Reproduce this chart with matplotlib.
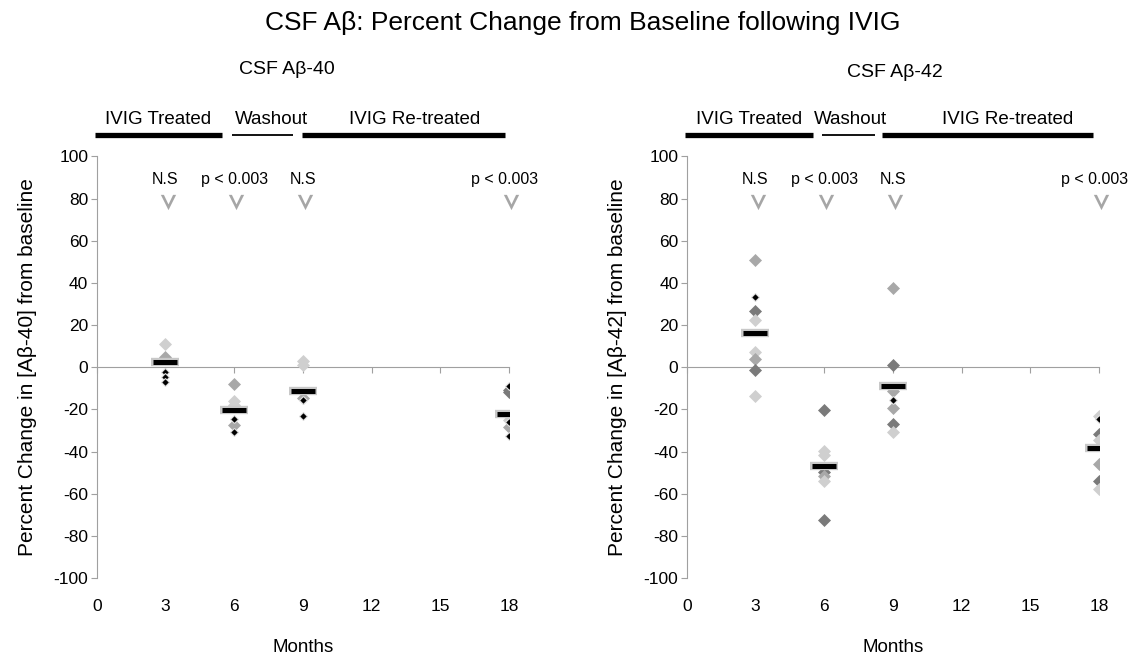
import matplotlib
matplotlib.use('Agg')
import matplotlib.pyplot as plt
from matplotlib.path import Path

plt.rcParams['font.family'] = ['Liberation Sans', 'DejaVu Sans']
plt.rcParams['axes.unicode_minus'] = False

# data (percent change from baseline)
months = [3, 6, 9, 18]
tick_months = [0, 3, 6, 9, 12, 15, 18]

ab40_m3 = [11.0, 5.0, -2.3, -4.7, -7.0]
ab40_m6 = [-8.0, -15.9, -17.8, -24.4, -27.3, -30.8]
ab40_m9 = [2.8, 1.0, -14.8, -15.7, -23.2]
ab40_m18 = [-9.1, -10.7, -11.9, -24.9, -26.0, -28.4, -32.5]
ab40_means = [2.3, -20.5, -11.2, -22.1]

ab42_m3 = [50.7, 33.1, 26.5, 22.5, 7.2, 4.0, -1.5, -13.4]
ab42_m6 = [-20.3, -39.9, -41.5, -49.8, -51.8, -54.2, -72.5]
ab42_m9 = [37.6, 0.9, -11.2, -15.3, -19.5, -26.8, -30.6]
ab42_m18 = [-23.2, -24.4, -31.6, -34.7, -45.8, -54.2, -57.7]
ab42_means = [16.2, -46.9, -9.1, -38.4]

p_labels = ['N.S', 'p < 0.003', 'N.S', 'p < 0.003']
period_labels = ['IVIG Treated', 'Washout', 'IVIG Re-treated']

# marker shades per point (L light, M mid, D dark, K small black)
ab40_shades = [list('LMKKK'), list('MLLKMK'), list('LLMKK'), list('KDDLKMK')]
ab42_shades = [list('MKDLLMDL'), list('DLLDMLD'), list('MDMKMDL'), list('LKDLMDL')]

shade_col = {'L': '#cfcfcf', 'M': '#a8a8a8', 'D': '#7a7a7a'}
axis_col = '#a0a0a0'

# chevron marker for the significance arrows
chevron = Path([(-1, 1), (0, -1), (1, 1), (0.6, 1), (0, -0.25), (-0.6, 1), (-1, 1)],
               [Path.MOVETO] + [Path.LINETO] * 5 + [Path.CLOSEPOLY])


def draw_panel(ax, groups, shades, means, ylab, periods):
    for m, vals, sh in zip(months, groups, shades):
        for v, s in zip(vals, sh):
            if s == 'K':
                ax.plot(m, v, marker='D', ms=4.2, color='black', mec='#e0e0e0', mew=0.8, zorder=4)
            else:
                ax.plot(m, v, marker='D', ms=6.4, color=shade_col[s], mec=shade_col[s], mew=0.5, zorder=3)
    ax.plot(months, means, ls='none', marker='_', ms=19.5, mew=6, color='#c8c8c8', zorder=5)
    ax.plot(months, means, ls='none', marker='_', ms=17.5, mew=3.6, color='black', zorder=6)

    for m, lab in zip(months, p_labels):
        ax.text(min(m, 17.8), 89, lab, ha='center', va='center', fontsize=11.5)
        ax.plot(m + 0.1, 78.5, marker=chevron, ms=11, color='#a6a6a6', mec='none', clip_on=False)

    for lab, (x0, x1, xc, lw) in zip(period_labels, periods):
        ax.plot([x0, x1], [110, 110], color='black', lw=lw, solid_capstyle='butt', clip_on=False)
        ax.text(xc, 115.5, lab, ha='center', va='baseline', fontsize=13.5)

    ax.set_xlim(0, 18)
    ax.set_ylim(-100, 100)
    ax.set_yticks(range(-100, 101, 20))
    ax.set_xticks(tick_months)
    for s in ['top', 'right']:
        ax.spines[s].set_visible(False)
    ax.spines['left'].set_color(axis_col)
    ax.spines['bottom'].set_position(('data', 0))
    ax.spines['bottom'].set_color(axis_col)
    ax.tick_params(axis='x', direction='out', length=4, color=axis_col, labelbottom=False)
    ax.tick_params(axis='y', direction='out', length=4, color=axis_col, labelsize=12.5, pad=2)
    ax.set_ylabel(ylab, fontsize=15, labelpad=12)

    sec = ax.secondary_xaxis('bottom')
    sec.set_xticks(tick_months)
    sec.spines['bottom'].set_visible(False)
    sec.tick_params(length=0, labelsize=12.5, pad=15)
    sec.set_xlabel('Months', fontsize=13.5, labelpad=18)


fig = plt.figure(figsize=(11.31, 6.6), dpi=100)
ax1 = fig.add_axes([0.0855, 0.1242, 0.3645, 0.6387])
ax2 = fig.add_axes([0.6072, 0.1242, 0.3645, 0.6387])

draw_panel(ax1, [ab40_m3, ab40_m6, ab40_m9, ab40_m18], ab40_shades, ab40_means,
           'Percent Change in [A\u03b2-40] from baseline',
           [(-0.07, 5.47, 2.67, 3.8), (5.91, 8.57, 7.61, 1.3), (8.97, 17.83, 13.9, 3.8)])
draw_panel(ax2, [ab42_m3, ab42_m6, ab42_m9, ab42_m18], ab42_shades, ab42_means,
           'Percent Change in [A\u03b2-42] from baseline',
           [(-0.07, 5.52, 2.70, 3.8), (5.91, 8.22, 7.13, 1.3), (8.53, 17.74, 14.03, 3.8)])

fig.text(0.2538, 0.894, 'CSF A\u03b2-40', ha='center', va='center', fontsize=14)
fig.text(0.791, 0.89, 'CSF A\u03b2-42', ha='center', va='center', fontsize=14)
fig.text(0.515, 0.965, 'CSF A\u03b2: Percent Change from Baseline following IVIG',
         ha='center', va='center', fontsize=19)

fig.savefig('out.png', dpi=100)
